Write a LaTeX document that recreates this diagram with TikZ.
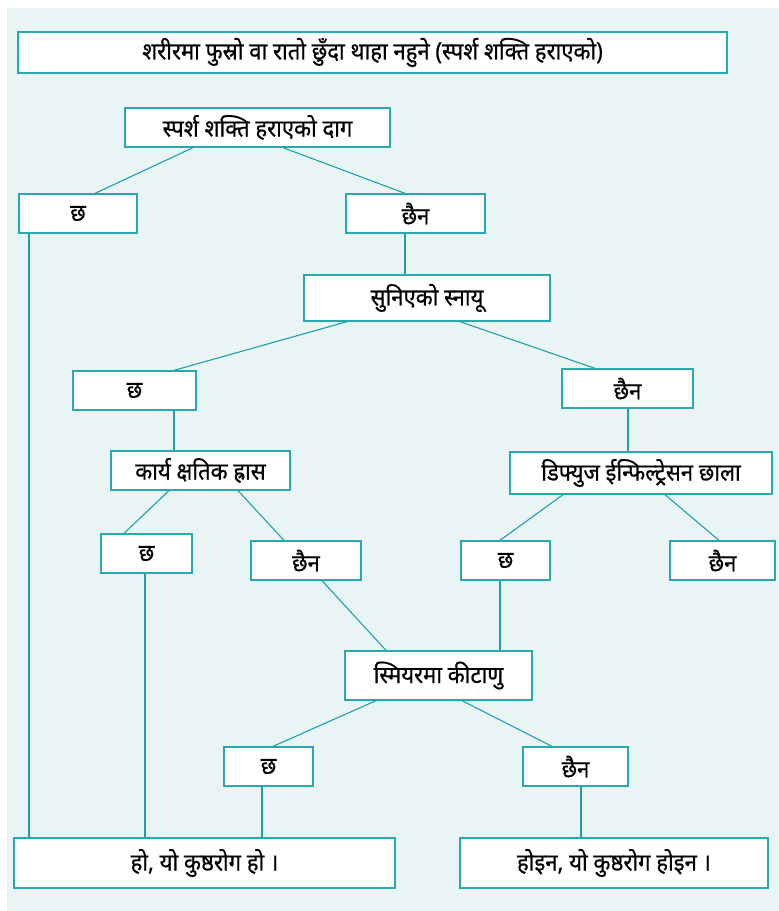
\documentclass[tikz,border=0pt]{standalone}
\usepackage{fontspec}
\newfontfamily\dev[Script=Devanagari, FakeStretch=0.92, FakeBold=0.6]{Noto Sans}
\definecolor{bgc}{HTML}{E9F5F5}
\definecolor{tealb}{HTML}{2AA8B0}
\definecolor{tealc}{HTML}{1FA0A8}
\begin{document}
\begin{tikzpicture}[x=1pt,y=-1pt,
  box/.style={draw=tealb, line width=1.3pt, fill=white, inner sep=0pt, font=\dev\fontsize{24}{27}\selectfont},
  link/.style={draw=tealc, line width=1.1pt}]
\useasboundingbox (0,0) rectangle (779,911);
\fill[bgc] (7,8) rectangle (779,911);
\node[box, minimum width=709, minimum height=41] (T) at (372.5,52.5) {शरीरमा फुस्रो वा रातो छुँदा थाहा नहुने (स्पर्श शक्ति हराएको)};
\node[box, minimum width=265, minimum height=39] (A) at (257.5,127.5) {स्पर्श शक्ति हराएको दाग};
\node[box, minimum width=118, minimum height=39] (B) at (78,213.5) {छ};
\node[box, minimum width=139, minimum height=39] (C) at (415.5,213.5) {छैन};
\node[box, minimum width=246, minimum height=46] (D) at (427,298) {सुनिएको स्नायू};
\node[box, minimum width=123, minimum height=39] (E) at (134.5,390.5) {छ};
\node[box, minimum width=131, minimum height=39] (F) at (627.5,388.5) {छैन};
\node[box, minimum width=179, minimum height=39] (G) at (200.5,470.5) {कार्य क्षतिक ह्रास};
\node[box, minimum width=262, minimum height=42] (H) at (641,473) {डिफ्युज ईन्फिल्ट्रेसन छाला};
\node[box, minimum width=91, minimum height=39] (I) at (146.5,553.5) {छ};
\node[box, minimum width=110, minimum height=39] (J) at (306,560.5) {छैन};
\node[box, minimum width=89, minimum height=39] (K) at (505.5,560.5) {छ};
\node[box, minimum width=105, minimum height=39] (L) at (722.5,560.5) {छैन};
\node[box, minimum width=187, minimum height=49] (M) at (438.5,675.5) {स्मियरमा कीटाणु};
\node[box, minimum width=89, minimum height=39] (N) at (268.5,766.5) {छ};
\node[box, minimum width=105, minimum height=39] (O) at (575.5,766.5) {छैन};
\node[box, minimum width=381, minimum height=50] (P) at (204.5,863) {हो, यो कुष्ठरोग हो ।};
\node[box, minimum width=308, minimum height=50] (Q) at (614,863) {होइन, यो कुष्ठरोग होइन ।};
\draw[link] ([xshift=-64.5]A.south) -- ([xshift=17]B.north);
\draw[link] ([xshift=25.5]A.south) -- ([xshift=-10.5]C.north);
\draw[link] ([xshift=-10.5]C.south) -- ([xshift=-22]D.north);
\draw[link] ([xshift=-80]D.south) -- ([xshift=39.5]E.north);
\draw[link] ([xshift=33]D.south) -- ([xshift=-32.5]F.north);
\draw[link] ([xshift=39.5]E.south) -- ([xshift=-26.5]G.north);
\draw[link] ([xshift=0.5]F.south) -- ([xshift=-13]H.north);
\draw[link] ([xshift=-31.5]G.south) -- ([xshift=-22.5]I.north);
\draw[link] ([xshift=37.5]G.south) -- ([xshift=-22]J.north);
\draw[link] ([xshift=-78]H.south) -- ([xshift=-5.5]K.north);
\draw[link] ([xshift=24]H.south) -- ([xshift=-3.5]L.north);
\draw[link] ([xshift=16]J.south) -- ([xshift=-52.5]M.north);
\draw[link] ([xshift=-5.5]K.south) -- ([xshift=61.5]M.north);
\draw[link] ([xshift=-62.5]M.south) -- ([xshift=4.5]N.north);
\draw[link] ([xshift=23.5]M.south) -- ([xshift=-23.5]O.north);
\draw[link] ([xshift=-49]B.south) -- ([xshift=-175.5]P.north);
\draw[link] ([xshift=-1.5]I.south) -- ([xshift=-59.5]P.north);
\draw[link] ([xshift=-6.5]N.south) -- ([xshift=57.5]P.north);
\draw[link] ([xshift=5.5]O.south) -- ([xshift=-33]Q.north);
\end{tikzpicture}
\end{document}
